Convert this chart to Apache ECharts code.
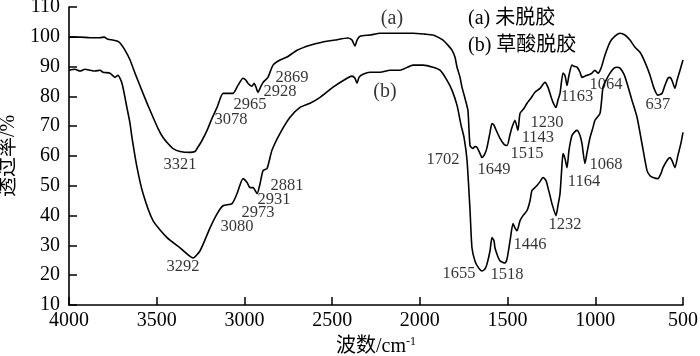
<!DOCTYPE html>
<html>
<head>
<meta charset="utf-8">
<script src="https://cdn.jsdelivr.net/npm/echarts@6/dist/echarts.min.js"></script>
<style>
html,body{margin:0;padding:0;background:#fff;}
#chart{width:700px;height:356px;}
</style>
</head>
<body>
<div id="chart"></div>
<script>
// Wavenumber (cm^-1) and transmittance (%)
const curveAWave = [4000,3937,3880,3823,3800,3778,3749,3726,3709,3681,3652,3624,3578,3550,3521,3493,3464,3436,3407,3367,3310,3282,3270,3242,3213,3185,3156,3122,3094,3065,3037,3008,2991,2980,2957,2945,2934,2923,2906,2894,2866,2837,2797,2757,2700,2626,2558,2484,2410,2387,2370,2358,2341,2284,2227,2142,2039,1971,1925,1897,1868,1840,1817,1800,1788,1771,1760,1743,1726,1714,1697,1686,1674,1657,1646,1629,1617,1600,1589,1577,1572,1543,1520,1503,1486,1475,1458,1441,1429,1406,1389,1367,1344,1315,1287,1270,1253,1241,1224,1213,1201,1184,1173,1161,1150,1133,1122,1104,1087,1076,1059,1047,1030,1019,1002,985,967,945,916,888,859,831,802,774,745,717,688,665,643,620,603,586,574,563,546,534,517,500];
const curveAT = [99.9,99.9,99.7,99.7,99.9,99.2,98.9,98.6,97.9,95.5,92.2,87.8,81.0,77.0,73.0,69.3,66.2,64.2,62.5,61.5,61.2,61.5,62.5,65.2,68.6,72.6,76.3,81.0,81.0,81.0,83.7,86.1,85.4,84.4,83.4,84.4,83.1,81.4,83.4,84.7,86.4,90.5,92.2,93.2,95.5,97.2,98.2,98.9,99.6,98.9,96.9,98.9,100.2,100.6,101.2,101.2,101.2,100.9,100.6,99.9,98.9,97.2,95.5,93.2,89.8,86.4,83.1,79.4,75.3,63.5,62.5,63.2,62.9,60.8,59.5,60.8,62.9,67.9,70.9,70.3,69.6,65.9,63.9,63.5,67.2,69.6,72.0,68.6,74.3,76.0,77.7,79.4,81.4,82.7,84.7,83.1,80.0,78.0,76.3,78.7,81.0,87.8,87.1,83.7,87.1,90.5,90.1,89.8,88.1,86.4,86.8,87.1,87.4,87.8,88.8,87.8,89.5,93.8,98.2,100.2,101.2,100.6,98.9,96.5,94.8,91.5,87.1,82.7,80.4,81.0,83.7,86.1,86.4,85.4,82.7,85.4,88.8,92.2];

const curveBWave = [4000,3966,3937,3909,3880,3852,3823,3806,3766,3738,3721,3698,3669,3652,3641,3612,3578,3521,3441,3367,3293,3253,3196,3156,3122,3071,3042,3008,2985,2968,2951,2928,2911,2894,2871,2843,2797,2740,2683,2626,2569,2495,2415,2387,2370,2358,2347,2324,2284,2227,2170,2113,2039,1982,1925,1885,1845,1817,1788,1765,1748,1731,1714,1703,1686,1669,1646,1629,1617,1600,1589,1577,1572,1555,1543,1515,1503,1486,1469,1458,1446,1429,1412,1389,1372,1361,1344,1332,1315,1298,1281,1270,1258,1247,1224,1213,1201,1190,1184,1173,1161,1150,1133,1116,1104,1087,1076,1059,1047,1030,1013,1002,973,956,939,916,893,876,859,836,819,791,762,734,705,688,671,643,626,614,591,574,563,546,529,511,500];
const curveBT = [88.8,89.1,88.5,89.1,88.8,88.5,88.8,88.1,87.8,86.4,87.1,84.4,76.0,70.9,66.2,56.1,47.4,38.3,32.6,29.2,25.8,28.2,35.9,40.6,43.3,44.0,47.4,52.4,51.1,49.4,49.4,47.4,50.7,55.1,55.8,61.9,67.6,73.0,76.3,77.7,79.7,83.1,86.1,86.8,86.1,84.4,86.4,87.4,88.1,88.1,88.8,88.8,90.5,90.5,89.8,88.8,85.4,82.1,77.0,70.3,66.2,58.5,41.7,29.2,24.8,22.8,21.4,22.1,23.8,28.2,32.6,31.5,29.2,26.2,24.8,24.1,25.5,31.5,37.3,35.9,34.9,38.3,40.0,41.7,45.0,48.4,49.4,50.1,51.4,52.8,51.8,49.4,46.7,44.0,40.0,43.3,47.4,56.8,60.8,59.2,56.1,61.9,66.9,68.2,68.6,66.9,64.2,57.5,61.2,66.2,69.6,72.0,74.3,83.1,85.4,87.8,89.5,89.8,89.5,87.4,84.4,78.7,73.0,64.2,55.1,53.4,52.8,52.4,54.1,56.1,58.5,59.5,58.5,56.1,60.2,64.5,67.9];

// Peak annotations: text, wavenumber, transmittance where the text sits
const peakText = ['3321','3078','2965','2928','2869','2881','2931','2973','3080','3292','1702','1649','1515','1143','1230','1163','1064','637','1068','1164','1232','1446','1655','1518'];
const peakWave = [3367,3077,2968,2797,2729,2757,2831,2923,3042,3350,1868,1577,1389,1327,1275,1104,939,643,939,1064,1173,1372,1777,1503];
const peakT    = [57.1,72.3,77.3,81.7,86.4,50.1,45.4,41.0,36.3,22.8,58.8,55.5,60.8,66.2,71.3,80.0,84.1,77.3,57.1,51.4,36.9,30.2,20.4,20.1];

// Curve tags
const tagText = ['(a)','(b)'];
const tagWave = [2159,2199];
const tagT    = [106.0,81.7];

const legendLines = ['(a) 未脱胶', '(b) 草酸脱胶'];
const xTitle = '波数/cm{sup|-1}';
const yTitle = '透过率/%';

const serif = '"Liberation Serif", "Times New Roman", "Noto Sans CJK SC", serif';
const zip = (xs, ys) => xs.map((x, i) => [x, ys[i]]);

const textLabel = size => ({
  show: true, position: 'inside', color: '#000', fontSize: size, fontFamily: serif,
  textBorderWidth: 0, textBorderColor: 'transparent', formatter: p => p.data[2]
});

const chart = echarts.init(document.getElementById('chart'), null, {renderer: 'canvas'});
chart.setOption({
  animation: false,
  backgroundColor: '#fff',
  grid: {left: 69, right: 17, top: 7, bottom: 51, containLabel: false, outerBoundsMode: 'none'},
  xAxis: {
    type: 'value', min: 500, max: 4000, interval: 500, inverse: true,
    name: xTitle, nameLocation: 'middle', nameGap: 31,
    nameTextStyle: {color: '#000', fontSize: 20, fontFamily: serif,
      rich: {sup: {fontSize: 12, fontFamily: serif, color: '#000', verticalAlign: 'top', padding: [0, 0, 10, 0]}}},
    axisLine: {show: true, onZero: false, lineStyle: {color: '#000', width: 1.6}},
    axisTick: {show: true, inside: true, length: 8, lineStyle: {color: '#000', width: 1.5}},
    axisLabel: {color: '#000', fontSize: 20, fontFamily: serif, margin: 6, formatter: v => String(v)},
    splitLine: {show: false}
  },
  yAxis: {
    type: 'value', min: 10, max: 110, interval: 10,
    name: yTitle, nameLocation: 'middle', nameGap: 44, nameRotate: 90,
    nameTextStyle: {color: '#000', fontSize: 20, fontFamily: serif},
    axisLine: {show: true, onZero: false, lineStyle: {color: '#000', width: 1.6}},
    axisTick: {show: true, inside: true, length: 8, lineStyle: {color: '#000', width: 1.5}},
    axisLabel: {color: '#000', fontSize: 20, fontFamily: serif, margin: 9, formatter: v => String(v)},
    splitLine: {show: false}
  },
  series: [
    {type: 'line', name: 'a', data: zip(curveAWave, curveAT), showSymbol: false, symbol: 'none',
     lineStyle: {color: '#000', width: 1.6}, smooth: 0.2, silent: true},
    {type: 'line', name: 'b', data: zip(curveBWave, curveBT), showSymbol: false, symbol: 'none',
     lineStyle: {color: '#000', width: 1.6}, smooth: 0.2, silent: true},
    {type: 'scatter', symbolSize: 0, silent: true, itemStyle: {color: '#000'},
     data: peakText.map((t, i) => [peakWave[i], peakT[i], t]),
     label: textLabel(16.5)},
    {type: 'scatter', symbolSize: 0, silent: true, itemStyle: {color: '#000'},
     data: tagText.map((t, i) => [tagWave[i], tagT[i], t]),
     label: textLabel(20)}
  ],
  graphic: legendLines.map((t, i) => ({
    type: 'text', left: 468, top: 9 + i * 27,
    style: {text: t, fill: '#000', font: '20px ' + serif}
  }))
});
</script>
</body>
</html>
